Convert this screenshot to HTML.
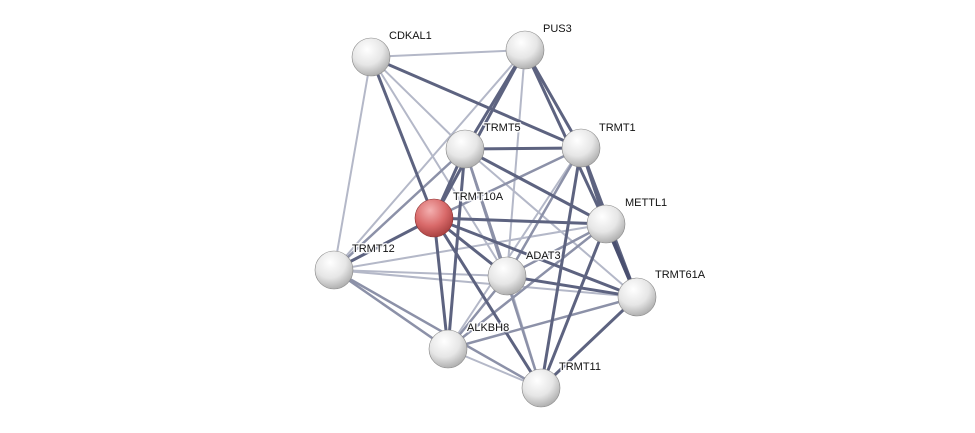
<!DOCTYPE html>
<html><head><meta charset="utf-8"><style>
html,body{margin:0;padding:0;background:#fff;width:975px;height:433px;overflow:hidden}
text{font-family:"Liberation Sans",sans-serif;font-size:11px;fill:#111;stroke:#fff;stroke-width:3px;stroke-opacity:0.85;paint-order:stroke;stroke-linejoin:round}
</style></head><body>
<svg width="975" height="433" viewBox="0 0 975 433" xmlns="http://www.w3.org/2000/svg">
<defs>
<radialGradient id="g" cx="0.4" cy="0.3" r="0.75">
<stop offset="0" stop-color="#ffffff"/><stop offset="0.55" stop-color="#e6e6e6"/><stop offset="1" stop-color="#a8a8a8"/>
</radialGradient>
<radialGradient id="r" cx="0.4" cy="0.3" r="0.75">
<stop offset="0" stop-color="#f4b0b0"/><stop offset="0.55" stop-color="#d96a6a"/><stop offset="1" stop-color="#a33c3c"/>
</radialGradient>
</defs>
<g stroke-linecap="round">
<g stroke="#b4b8c8" stroke-width="2">
<line x1="371" y1="57" x2="525" y2="50"/>
<line x1="371" y1="57" x2="334" y2="270"/>
<line x1="371" y1="57" x2="465" y2="149"/>
<line x1="371" y1="57" x2="507" y2="276"/>
<line x1="525" y1="50" x2="507" y2="276"/>
<line x1="525" y1="50" x2="334" y2="270"/>
<line x1="606" y1="224" x2="334" y2="270"/>
<line x1="334" y1="270" x2="507" y2="276"/>
<line x1="334" y1="270" x2="637" y2="297"/>
<line x1="448" y1="349" x2="541" y2="388"/>
<line x1="465" y1="149" x2="637" y2="297"/>
<line x1="581" y1="148" x2="448" y2="349"/>
<line x1="507" y1="276" x2="541" y2="388"/>
</g>
<g stroke="#8c91a8" stroke-width="2.5">
<line x1="465" y1="149" x2="507" y2="276"/>
<line x1="465" y1="149" x2="541" y2="388"/>
<line x1="465" y1="149" x2="334" y2="270"/>
<line x1="606" y1="224" x2="507" y2="276"/>
<line x1="606" y1="224" x2="448" y2="349"/>
<line x1="334" y1="270" x2="448" y2="349"/>
<line x1="334" y1="270" x2="541" y2="388"/>
<line x1="507" y1="276" x2="448" y2="349"/>
<line x1="637" y1="297" x2="448" y2="349"/>
<line x1="581" y1="148" x2="434" y2="218"/>
<line x1="581" y1="148" x2="507" y2="276"/>
</g>
<g stroke="#5d6380" stroke-width="3">
<line x1="371" y1="57" x2="581" y2="148"/>
<line x1="371" y1="57" x2="434" y2="218"/>
<line x1="525" y1="50" x2="465" y2="149"/>
<line x1="525" y1="50" x2="581" y2="148"/>
<line x1="525" y1="50" x2="606" y2="224"/>
<line x1="525" y1="50" x2="434" y2="218"/>
<line x1="465" y1="149" x2="581" y2="148"/>
<line x1="465" y1="149" x2="434" y2="218"/>
<line x1="465" y1="149" x2="606" y2="224"/>
<line x1="465" y1="149" x2="448" y2="349"/>
<line x1="581" y1="148" x2="606" y2="224"/>
<line x1="581" y1="148" x2="637" y2="297"/>
<line x1="581" y1="148" x2="541" y2="388"/>
<line x1="434" y1="218" x2="606" y2="224"/>
<line x1="434" y1="218" x2="507" y2="276"/>
<line x1="434" y1="218" x2="334" y2="270"/>
<line x1="434" y1="218" x2="448" y2="349"/>
<line x1="434" y1="218" x2="541" y2="388"/>
<line x1="434" y1="218" x2="637" y2="297"/>
<line x1="606" y1="224" x2="637" y2="297" stroke-width="4" stroke="#4a5070"/>
<line x1="606" y1="224" x2="541" y2="388"/>
<line x1="507" y1="276" x2="637" y2="297"/>
<line x1="637" y1="297" x2="541" y2="388"/>
</g>
</g>
<g stroke="#888" stroke-width="0.6">
<circle cx="371" cy="57" r="19" fill="url(#g)"/>
<circle cx="525" cy="50" r="19" fill="url(#g)"/>
<circle cx="465" cy="149" r="19" fill="url(#g)"/>
<circle cx="581" cy="148" r="19" fill="url(#g)"/>
<circle cx="434" cy="218" r="19" fill="url(#r)" stroke="#8a3030"/>
<circle cx="606" cy="224" r="19" fill="url(#g)"/>
<circle cx="334" cy="270" r="19" fill="url(#g)"/>
<circle cx="507" cy="276" r="19" fill="url(#g)"/>
<circle cx="637" cy="297" r="19" fill="url(#g)"/>
<circle cx="448" cy="349" r="19" fill="url(#g)"/>
<circle cx="541" cy="388" r="19" fill="url(#g)"/>
</g>
<text x="389" y="39">CDKAL1</text>
<text x="543" y="32">PUS3</text>
<text x="484" y="131">TRMT5</text>
<text x="599" y="131">TRMT1</text>
<text x="453" y="200">TRMT10A</text>
<text x="625" y="206">METTL1</text>
<text x="352" y="252">TRMT12</text>
<text x="526" y="259">ADAT3</text>
<text x="655" y="278">TRMT61A</text>
<text x="467" y="331">ALKBH8</text>
<text x="559" y="370">TRMT11</text>
</svg>
</body></html>
